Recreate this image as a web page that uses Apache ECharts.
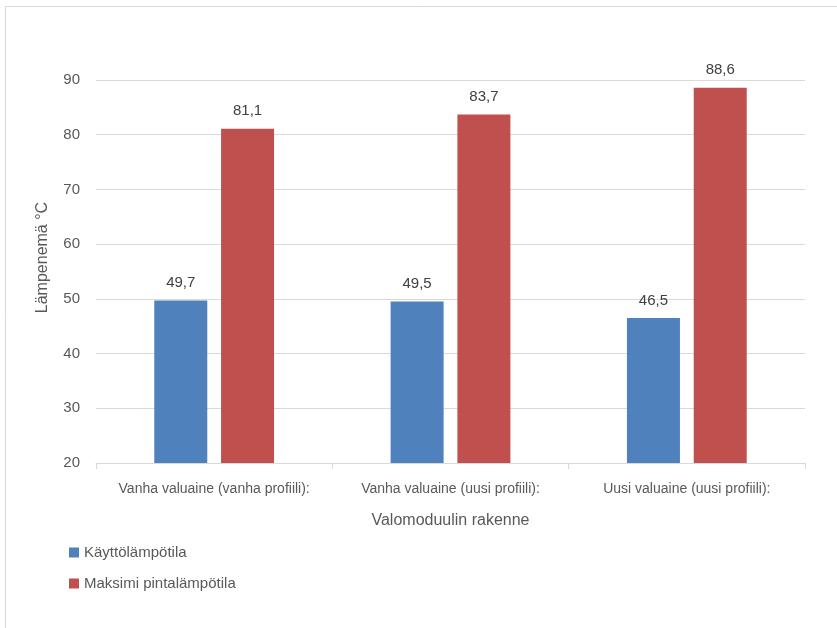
<!DOCTYPE html>
<html><head><meta charset="utf-8">
<script src="https://cdn.jsdelivr.net/npm/echarts@6/dist/echarts.min.js"></script>
<style>html,body{margin:0;padding:0;background:#fff}#c{width:837px;height:628px}</style>
</head><body><div id="c"></div>
<script>
var categories = ['Vanha valuaine (vanha profiili):', 'Vanha valuaine (uusi profiili):', 'Uusi valuaine (uusi profiili):'];
var seriesNames = ['Käyttölämpötila', 'Maksimi pintalämpötila'];
var kayttoValues = [49.7, 49.5, 46.5];
var maksimiValues = [81.1, 83.7, 88.6];
var yTicks = [20, 30, 40, 50, 60, 70, 80, 90];

var FONT = '"Liberation Sans", Arial, sans-serif';
var chart = echarts.init(document.getElementById('c'), null, {renderer: 'canvas'});
function lbl(p){ return String(p.value).replace('.', ','); }
chart.setOption({
  animation: false,
  backgroundColor: '#fff',
  textStyle: {fontFamily: FONT},
  graphic: [{type: 'rect', shape: {x: 5.5, y: 6.5, width: 850, height: 640}, style: {fill: 'none', stroke: '#d9d9d9', lineWidth: 1}, silent: true}],
  grid: {left: 96, right: 32, top: 80, bottom: 165, containLabel: false},
  legend: {
    orient: 'vertical', left: 64, top: 540, itemWidth: 10, itemHeight: 10, itemGap: 16,
    icon: 'rect',
    textStyle: {fontFamily: FONT, fontSize: 15, color: '#595959'},
    data: seriesNames
  },
  xAxis: {
    type: 'category', data: categories,
    name: 'Valomoduulin rakenne', nameLocation: 'middle', nameGap: 50,
    nameTextStyle: {fontFamily: FONT, fontSize: 16, color: '#595959'},
    axisLine: {lineStyle: {color: '#d9d9d9', width: 1}},
    axisTick: {show: true, length: 6, lineStyle: {color: '#d9d9d9'}},
    axisLabel: {fontFamily: FONT, fontSize: 14, color: '#595959', margin: 19, interval: 0}
  },
  yAxis: {
    type: 'value', min: yTicks[0], max: yTicks[yTicks.length - 1], interval: 10,
    name: 'Lämpenemä °C', nameLocation: 'middle', nameGap: 45, nameRotate: 90,
    nameTextStyle: {fontFamily: FONT, fontSize: 16, color: '#595959', padding: [0, 0, 0, 28]},
    axisLine: {show: false}, axisTick: {show: false},
    axisLabel: {fontFamily: FONT, fontSize: 15, color: '#595959', margin: 16},
    splitLine: {lineStyle: {color: '#d9d9d9', width: 1}}
  },
  series: [
    {name: seriesNames[0], type: 'bar', data: kayttoValues, barWidth: 53, barGap: '26%',
     itemStyle: {color: '#4f81bd'},
     label: {show: true, position: 'top', distance: 10, formatter: lbl, fontFamily: FONT, fontSize: 15, color: '#404040'}},
    {name: seriesNames[1], type: 'bar', data: maksimiValues, barWidth: 53,
     itemStyle: {color: '#c0504d'},
     label: {show: true, position: 'top', distance: 10, formatter: lbl, fontFamily: FONT, fontSize: 15, color: '#404040'}}
  ]
});
</script></body></html>
